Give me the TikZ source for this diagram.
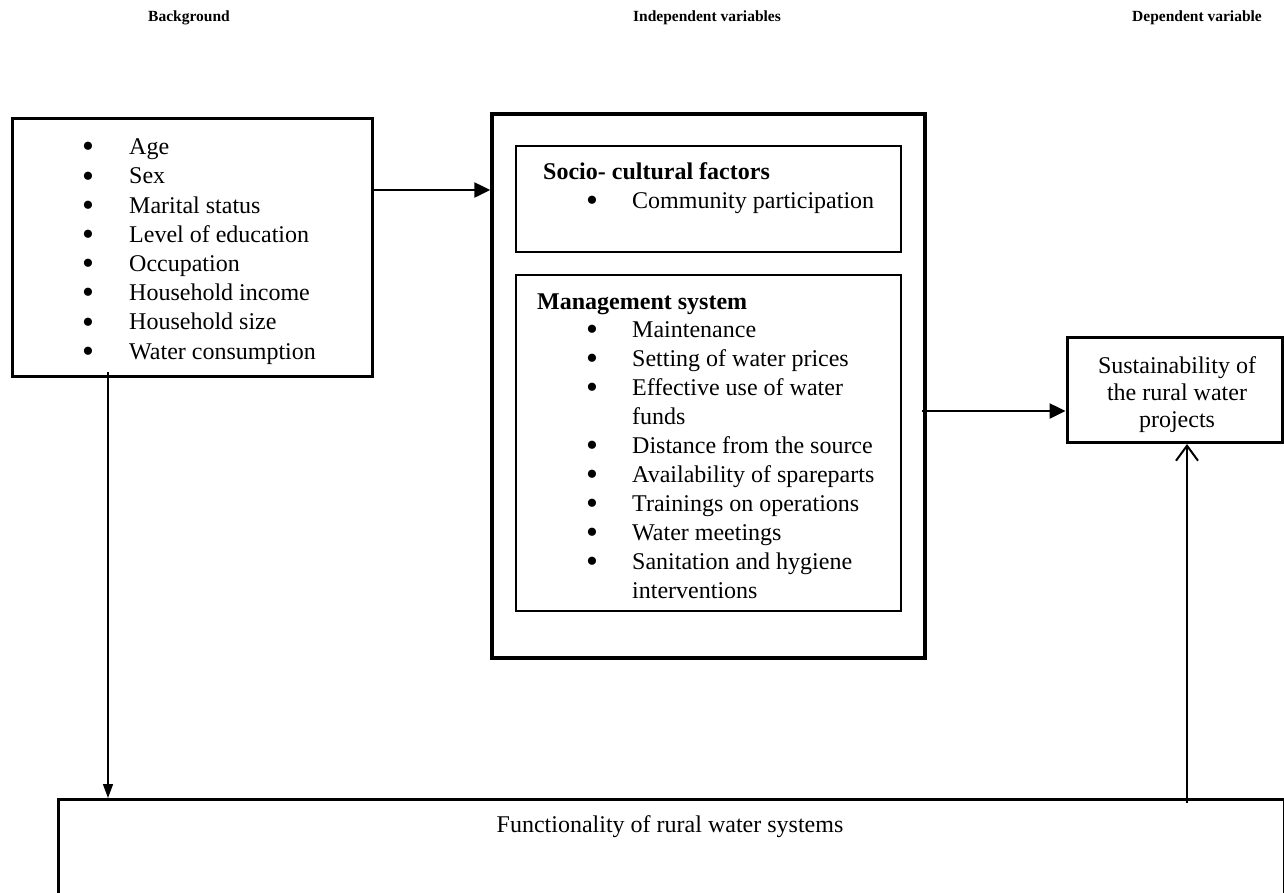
\documentclass[tikz,border=0pt]{standalone}
\usepackage{fontspec}
\setmainfont{Liberation Serif}
\usetikzlibrary{arrows.meta}
\newcommand{\bigbul}{\smash{\raisebox{-3.2pt}{\fontsize{34}{34}\selectfont\textbullet}}}
\newcommand{\bl}{\makebox[47pt][l]{\bigbul}}
\newcommand{\blm}{\makebox[46pt][l]{\bigbul}}
\tikzset{
  thickbox/.style={draw, line width=3pt, rectangle, inner sep=0pt},
  thinbox/.style={draw, line width=1.4pt, rectangle, inner sep=0pt},
  body/.style={font=\fontsize{24}{29.2}\selectfont, inner sep=0pt, align=left},
  header/.style={font=\fontsize{15.5}{18}\selectfont\bfseries, inner sep=0pt},
  arr/.style={line width=2.5pt, -{Triangle[length=16pt,width=15pt]}},
}
\begin{document}
\begin{tikzpicture}[x=1pt,y=-1pt]
\useasboundingbox (0,0) rectangle (1284,892);
\clip (0,0) rectangle (1284,892);
% headers
\node[header] (h1) at (189,18) {Background};
\node[header] (h2) at (707,18) {Independent variables};
\node[header] (h3) at (1197,18) {Dependent variable};
% background box
\node[thickbox, minimum width=360pt, minimum height=258pt] (bg) at (192,247) {};
\node[body, anchor=base west] (bglist) at (82,359) {\bl Age\\ \bl Sex\\ \bl Marital status\\ \bl Level of education\\ \bl Occupation\\ \bl Household income\\ \bl Household size\\ \bl Water consumption};
% independent box
\node[draw, line width=3.5pt, minimum width=433pt, minimum height=544pt, inner sep=0pt] (ind) at (708.5,386) {};
\node[thinbox, minimum width=385pt, minimum height=106pt] (soc) at (708.5,199) {};
\node[body, anchor=base west, font=\fontsize{24}{29.2}\selectfont\bfseries] (soch) at (543,179) {Socio- cultural factors};
\node[body, anchor=base west] (socl) at (586,208) {\blm Community participation};
\node[thinbox, minimum width=385pt, minimum height=336pt] (man) at (708.5,443) {};
\node[body, anchor=base west, font=\fontsize{24}{29.2}\selectfont\bfseries] (manh) at (537,309) {Management system};
\node[body, anchor=base west, font=\fontsize{24}{29}\selectfont] (manl) at (586,598) {\blm Maintenance\\ \blm Setting of water prices\\ \blm Effective use of water\\ \hspace*{46pt}funds\\ \blm Distance from the source\\ \blm Availability of spareparts\\ \blm Trainings on operations\\ \blm Water meetings\\ \blm Sanitation and hygiene\\ \hspace*{46pt}interventions};
% dependent box
\node[thickbox, minimum width=215pt, minimum height=105pt] (sus) at (1174.5,390) {};
\node[body, align=center, anchor=base, font=\fontsize{24}{27}\selectfont] (sust) at (1177,427) {Sustainability of\\ the rural water\\ projects};
% bottom box
\node[thickbox, anchor=north west, minimum width=1226pt, minimum height=160pt] (fun) at (57,798) {};
\node[body, anchor=base] (funt) at (670,832) {Functionality of rural water systems};
% connectors
\coordinate (a1) at (bg.east |- 0,190);
\draw[arr] (a1) -- (ind.west |- a1);
\coordinate (a2) at (922,411);
\draw[arr] (a2) -- (sus.west |- a2);
\coordinate (a3) at (108,372);
\draw[line width=1.5pt, -{Triangle[length=14pt,width=10pt]}] (a3) -- (a3 |- fun.north);
\coordinate (a4) at (1187,803);
\draw[line width=2pt, -{Straight Barb[length=15pt,width=22pt,line width=2pt]}] (a4) -- (a4 |- sus.south);
\end{tikzpicture}
\end{document}
